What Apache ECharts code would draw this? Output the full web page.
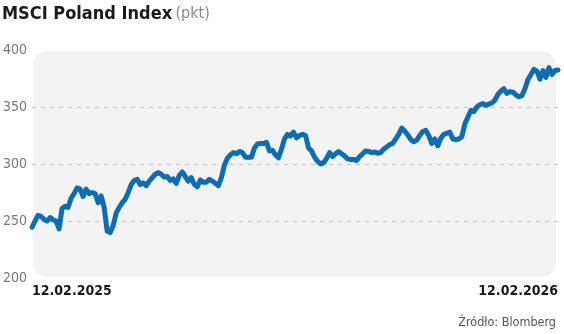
<!DOCTYPE html>
<html>
<head>
<meta charset="utf-8">
<script src="https://cdn.jsdelivr.net/npm/echarts@6/dist/echarts.min.js"></script>
<style>
  html, body { margin: 0; padding: 0; background: #ffffff; }
  #chart { width: 564px; height: 334px; }
</style>
</head>
<body>
<div id="chart"></div>
<script>
const titleText = 'MSCI Poland Index';
const unitText = '(pkt)';
const sourceText = 'Źródło: Blomberg';
const xLabels = ['12.02.2025', '12.02.2026'];
const yTicks = [200, 250, 300, 350, 400];

const values = [
  244.5, 250, 255, 254, 251.5, 250, 253, 251, 250, 243,
  261, 263, 262, 270, 274, 279, 278, 271.5, 278, 274,
  275, 274, 266, 272, 262, 241, 240, 246, 257, 262,
  266, 269, 275, 282, 285.5, 286.5, 282, 283.5, 281, 285,
  288, 291, 292.5, 291, 288.5, 289, 285.5, 287, 283, 290,
  293, 289, 285, 288, 282, 280, 286, 284, 284, 286.5,
  285, 283, 281, 288, 299, 305, 308, 310, 309, 311,
  310, 306, 306, 306, 314, 317.5, 318, 318, 319, 311.5,
  312, 308, 305.5, 313, 322, 326, 324.5, 328, 323, 325,
  326, 325, 314, 311.5, 306, 302.5, 300, 301, 305, 310,
  306.5, 309, 311, 309, 307, 304.5, 304, 304, 303, 306.5,
  309, 311.5, 311, 310, 310.5, 309.5, 310, 313, 315, 317,
  318, 322, 326, 331.5, 329, 325.5, 321.5, 319.5, 321, 325,
  328.5, 329.5, 325, 318, 322, 316, 322.5, 326, 327, 328,
  322, 321.5, 322, 324, 335, 341, 347, 346, 350, 352,
  353, 351.5, 352.5, 353.5, 356, 361, 364, 366, 362, 363.5,
  363, 360.5, 359, 360, 366, 374, 378.5, 383, 381.5, 374.5,
  382, 376, 384.5, 378.5, 382, 382.5
];

const categories = values.map((v, i) =>
  i === 0 ? xLabels[0] : (i === values.length - 1 ? xLabels[1] : ''));

const chart = echarts.init(document.getElementById('chart'), null, { renderer: 'canvas' });
const FONT = '"DejaVu Sans Condensed", "Roboto", sans-serif';

chart.setOption({
  animation: false,
  backgroundColor: '#ffffff',
  graphic: [
    {
      type: 'rect',
      z: -10,
      silent: true,
      shape: { x: 33, y: 51, width: 523, height: 226, r: 14 },
      style: { fill: '#f3f3f3' }
    },
    {
      type: 'text',
      left: 2,
      top: 5,
      style: {
        rich: {
          t: { fontFamily: FONT, fontSize: 18, fontWeight: 'bold', fill: '#1a1a1a' },
          u: { fontFamily: FONT, fontSize: 16, fontWeight: 'normal', fill: '#8a8a8a' }
        },
        text: '{t|' + titleText + '} {u|' + unitText + '}'
      }
    },
    {
      type: 'text',
      right: 8,
      top: 316,
      style: { text: sourceText, fontFamily: FONT, fontSize: 12.5, fill: '#555555' }
    }
  ],
  grid: { left: 32, right: 6, top: 50, bottom: 56, containLabel: false },
  xAxis: {
    type: 'category',
    data: categories,
    boundaryGap: false,
    axisLine: { show: false },
    axisTick: { show: false },
    splitLine: { show: false },
    axisLabel: {
      interval: 0,
      margin: 6,
      alignMinLabel: 'left',
      alignMaxLabel: 'right',
      fontFamily: FONT,
      fontSize: 14,
      fontWeight: 'bold',
      color: '#1a1a1a'
    }
  },
  yAxis: {
    type: 'value',
    min: yTicks[0],
    max: yTicks[yTicks.length - 1],
    interval: 50,
    axisLine: { show: false },
    axisTick: { show: false },
    axisLabel: {
      margin: 5,
      fontFamily: FONT,
      fontSize: 14,
      color: '#777777'
    },
    splitLine: {
      show: true,
      showMinLine: false,
      showMaxLine: false,
      lineStyle: { color: '#c4c4c4', type: [4, 5], width: 1 }
    }
  },
  series: [{
    type: 'line',
    data: values,
    showSymbol: false,
    smooth: false,
    lineStyle: { color: '#0c6db3', width: 5, join: 'round', cap: 'round' },
    z: 5
  }]
});
</script>
</body>
</html>
